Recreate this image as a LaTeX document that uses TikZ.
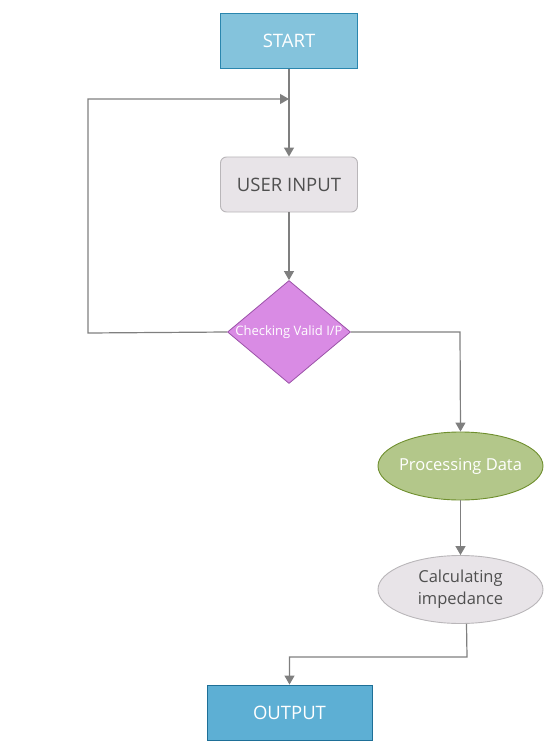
\documentclass[tikz,border=0pt]{standalone}
\usepackage{fontspec}
\setmainfont{Open Sans}
\usetikzlibrary{arrows.meta,shapes.geometric}
\definecolor{startfill}{HTML}{84C3DC}
\definecolor{startdraw}{HTML}{2A86AE}
\definecolor{outfill}{HTML}{5DAFD4}
\definecolor{outdraw}{HTML}{1E6F97}
\definecolor{greyfill}{HTML}{E8E4E8}
\definecolor{greydraw}{HTML}{B9B6B9}
\definecolor{greytext}{HTML}{4F4F4F}
\definecolor{diafill}{HTML}{D98BE4}
\definecolor{diadraw}{HTML}{9B52A8}
\definecolor{procfill}{HTML}{B3C78A}
\definecolor{procdraw}{HTML}{6F8F2E}
\definecolor{linec}{HTML}{7F7F7F}
\tikzset{
  boxnode/.style={rectangle, minimum width=137pt, minimum height=55pt, inner sep=0pt, line width=0.9pt, font=\fontsize{18.5}{22}\selectfont},
  ellnode/.style={ellipse, minimum width=165pt, minimum height=68pt, inner sep=0pt, line width=0.9pt, align=center},
  arr/.style={draw=linec, line width=1.2pt, -{Triangle[length=9pt,width=10pt]}},
  plain/.style={draw=linec, line width=1.2pt},
}
\begin{document}
\begin{tikzpicture}[x=1pt,y=-1pt]
\useasboundingbox (0,0) rectangle (557,754);
\node[boxnode, fill=startfill, draw=startdraw, text=white] (start) at (289,41) {START};
\node[boxnode, rounded corners=6pt, fill=greyfill, draw=greydraw, text=greytext] (user) at (289,184.5) {USER INPUT};
\node[diamond, minimum width=123pt, minimum height=103pt, inner sep=0pt, fill=diafill, draw=diadraw, line width=0.8pt, text=white, font=\fontsize{13}{15}\selectfont] (check) at (289,332) {\makebox[0pt]{Checking Valid I/P}};
\node[ellnode, fill=procfill, draw=procdraw, text=white, font=\fontsize{16.5}{19}\selectfont] (proc) at (460.5,466) {\makebox[0pt]{Processing Data}};
\node[ellnode, fill=greyfill, draw=greydraw, text=greytext, font=\fontsize{16.5}{22}\selectfont] (calc) at (460.5,589.5) {Calculating\\impedance};
\node[boxnode, minimum width=165pt, fill=outfill, draw=outdraw, text=white] (out) at (289.5,712.5) {OUTPUT};
\coordinate (join) at (289,99);
\coordinate (lc) at (88,333);
\coordinate (rc) at (460,332);
\coordinate (oc) at (467,657);
\draw[arr] (start) -- (user);
\draw[arr] (user) -- (check);
\draw[arr] (check.west) -- (lc) |- (join);
\draw[arr] (check.east) -- (rc) -- (proc.north);
\draw[arr] (proc) -- (calc);
\draw[arr] ([xshift=6pt]calc.south) -- (oc) -| (out.north);
\end{tikzpicture}
\end{document}
